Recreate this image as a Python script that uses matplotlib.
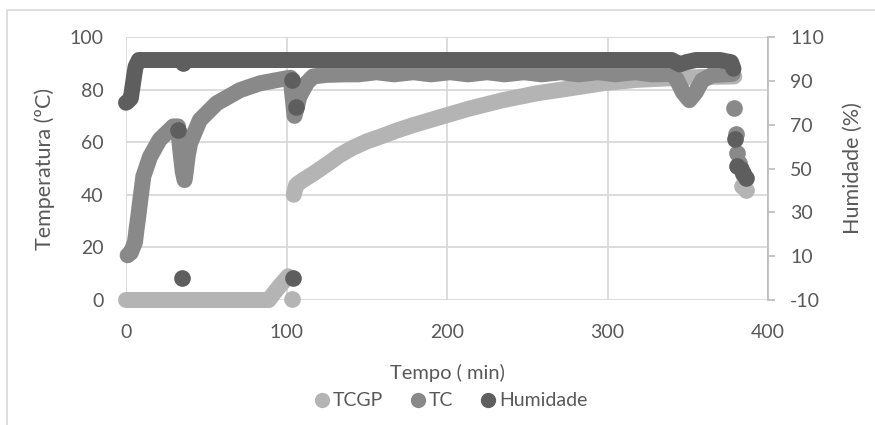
import numpy as np
import matplotlib.pyplot as plt
from matplotlib.lines import Line2D

plt.rcParams['font.family'] = ['Lato', 'DejaVu Sans']
plt.rcParams['axes.unicode_minus'] = False

# TCGP (left axis)
tcgp_t1 = [0, 30, 60, 89, 92, 96, 101]
tcgp_v1 = [0, 0, 0, 0, 2.5, 5.5, 9]
tcgp_t2 = [104.5, 106, 110, 116.6, 125, 133, 141, 150, 158, 169, 179, 190, 200, 214, 235,
           256, 277, 297, 318, 339, 360, 379]
tcgp_v2 = [40, 43.7, 45.5, 48, 51.5, 55, 57.8, 60.3, 62, 64.5, 66.5, 68.5, 70.3, 72.8, 76,
           78.6, 80.5, 82.4, 83.7, 84.3, 84.8, 85]
tcgp_out_t = [103.5, 383.5, 386]
tcgp_out_v = [0.3, 43.5, 42]

# TC (left axis)
tc_t = [1, 3, 5.6, 6.6, 7.7, 8.7, 10.8, 15, 21, 29.5, 32.4, 33.6, 35.3, 36.5, 37.5, 38.5,
        40, 46, 56.5, 71, 83.5, 100, 102.5, 103.5, 105, 106.5, 108, 112.6, 116.6, 125, 137,
        145, 156, 167, 179, 190, 202, 213, 225, 236, 248, 259, 271, 282, 294, 305, 317,
        328, 340, 343, 347, 351, 355, 359, 365, 378]
tc_v = [17, 18, 22, 27, 32, 37, 47, 54.5, 61, 66, 66, 58.3, 49, 45.6, 50, 55,
        59.7, 68.4, 74.8, 79.8, 82.4, 84.3, 84.5, 79, 70, 73.5, 77.3, 82.5, 85, 85.6, 85.8,
        85.8, 86.6, 85.8, 86.6, 85.8, 86.6, 85.8, 86.6, 85.8, 86.6, 85.8, 86.6, 85.8, 86.6, 85.8, 86.6,
        85.8, 86, 84, 79, 76, 79, 83.5, 85.5, 86]
tc_out_t = [379, 379.8, 380.8, 382, 384.5]
tc_out_v = [73, 63, 56, 52, 48]

# Humidade (right axis)
hum_t = [0, 1, 3, 4, 5, 6, 8, 20, 60, 100, 102, 108, 200, 300, 340, 345, 349, 355,
         370, 377, 378.5]
hum_v = [80, 80.5, 82, 87, 92, 96.5, 99.5, 99.5, 99.5, 99.5, 99.5, 99.5, 99.5, 99.5,
         99.5, 97.5, 98.5, 99.5, 99.5, 98.5, 95.5]
hum_out_t = [32.4, 34.7, 35.5, 103.6, 104, 105.7, 379.5, 380.5, 383, 384.5, 386]
hum_out_v = [67.6, 0, 98, 90.4, 0, 78.2, 63.5, 51, 50, 48, 45.5]

c_tcgp = '#b4b4b4'
c_tc = '#898989'
c_hum = '#5e5e5e'
txt = '#595959'
grid = '#d9d9d9'

fig = plt.figure(figsize=(8.75, 4.25), dpi=100)
ax = fig.add_axes([126/875, 1-300/425, (768-126)/875, (300-37)/425])
ax2 = ax.twinx()

lw = 11.5
ms = 12
kw = dict(solid_capstyle='round', solid_joinstyle='round', clip_on=False)
ax.plot(tcgp_t1, tcgp_v1, color=c_tcgp, lw=lw, **kw)
ax.plot(tcgp_t2, tcgp_v2, color=c_tcgp, lw=lw, **kw)
ax.plot(tcgp_out_t, tcgp_out_v, 'o', color=c_tcgp, ms=ms, mew=0, clip_on=False)
ax.plot(tc_t, tc_v, color=c_tc, lw=lw, **kw)
ax.plot(tc_out_t, tc_out_v, 'o', color=c_tc, ms=ms, mew=0, clip_on=False)
ax2.plot(hum_t, hum_v, color=c_hum, lw=lw, **kw)
ax2.plot(hum_out_t, hum_out_v, 'o', color=c_hum, ms=ms, mew=0, clip_on=False)

ax.set_xlim(0, 400)
ax.set_ylim(0, 100)
ax2.set_ylim(-10, 110)
ax.set_xticks([0, 100, 200, 300, 400])
ax.set_yticks([0, 20, 40, 60, 80, 100])
ax2.set_yticks([-10, 10, 30, 50, 70, 90, 110])
ax.grid(True, color=grid, lw=1.3)
ax.set_axisbelow(True)

for a in (ax, ax2):
    for s in a.spines.values():
        s.set_visible(False)
ax2.spines['right'].set_visible(True)
ax2.spines['right'].set_color('#bfbfbf')
ax2.spines['right'].set_linewidth(1.3)

ax.tick_params(axis='x', length=0, labelsize=14, labelcolor=txt, pad=17)
ax.tick_params(axis='y', length=0, labelsize=14, labelcolor=txt, pad=16)
ax2.tick_params(axis='y', length=5, color='#bfbfbf', width=1.3, labelsize=14,
                labelcolor=txt, pad=11)

ax.set_xlabel('Tempo ( min)', fontsize=14.5, color=txt)
ax.set_ylabel('Temperatura (ºC)', fontsize=15.5, color=txt)
ax2.set_ylabel('Humidade (%)', fontsize=15.5, color=txt, rotation=90)
ax.xaxis.set_label_coords(0.5, (300-373)/263)
ax.yaxis.set_label_coords((45-126)/642, 0.5)
ax2.yaxis.set_label_coords((853-126)/642, 0.5)
ax.xaxis.label.set_va('center')
ax.yaxis.label.set_va('center')
ax2.yaxis.label.set_va('center')

handles = [Line2D([], [], ls='', marker='o', color=c, ms=11, mew=0)
           for c in (c_tcgp, c_tc, c_hum)]
fig.legend(handles, ['TCGP', 'TC', 'Humidade'], loc='center', bbox_to_anchor=(450/875, 1-401/425),
           ncol=3, frameon=False, fontsize=14, labelcolor=txt, handletextpad=0.05,
           columnspacing=1.3, handlelength=1.0)

# outer chart border
fig.add_artist(Line2D([7/875, 7/875, 1], [0, 1-10/425, 1-10/425], transform=fig.transFigure,
                      color=grid, lw=1.2))

fig.savefig('out.png', dpi=100)
